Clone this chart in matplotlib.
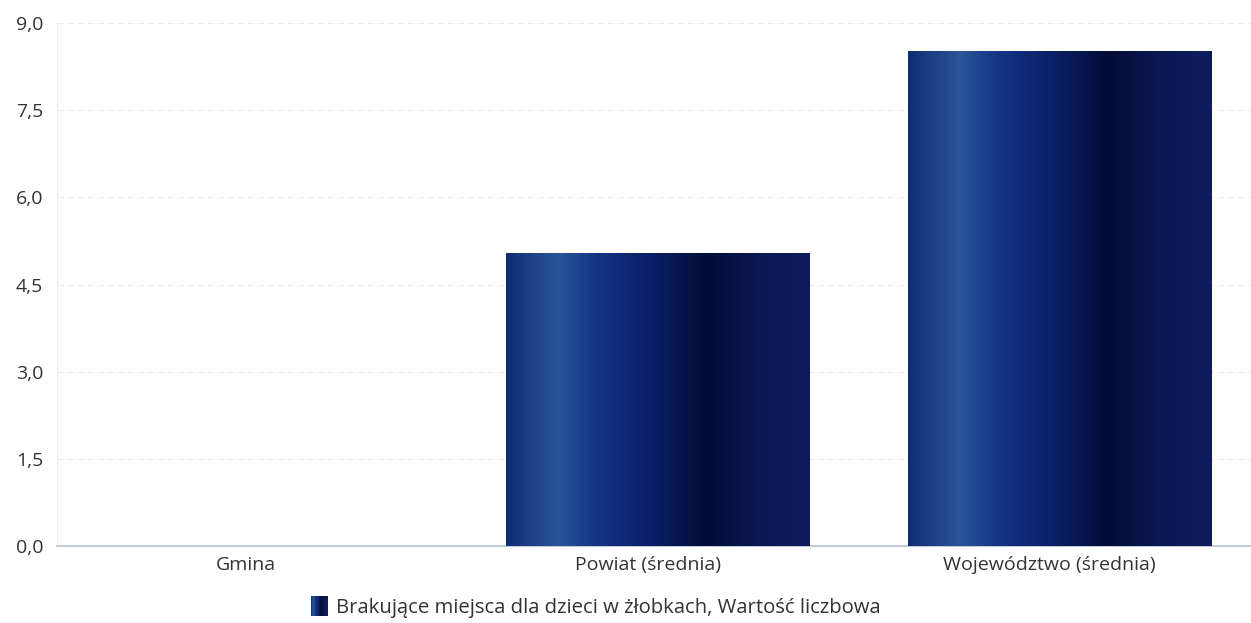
import numpy as np
import matplotlib.pyplot as plt
import matplotlib.transforms as mtransforms
from matplotlib.colors import LinearSegmentedColormap
from matplotlib.legend_handler import HandlerBase
from matplotlib.patches import Patch, Rectangle
from matplotlib.ticker import FuncFormatter, MultipleLocator

plt.rcParams['font.family'] = ['Open Sans', 'DejaVu Sans']

# dane
kategorie = ["Gmina", "Powiat (średnia)", "Województwo (średnia)"]
wartosci = [0.0, 5.05, 8.52]
seria = "Brakujące miejsca dla dzieci w żłobkach, Wartość liczbowa"

# gradient poziomy słupków
gradient = LinearSegmentedColormap.from_list(
    "slupek",
    [(0.0, "#112d72"), (0.17, "#2a5598"), (0.3, "#133484"), (0.47, "#0a2068"),
     (0.66, "#040c36"), (0.85, "#0b1a56"), (1.0, "#0c1c5e")])


class GradientHandler(HandlerBase):
    # kwadracik legendy z tym samym gradientem
    def create_artists(self, legend, orig_handle, xdescent, ydescent, width,
                       height, fontsize, trans):
        n = 12
        out = []
        for i in range(n):
            r = Rectangle((-xdescent + width * i / n, -ydescent), width / n + 0.3,
                          height, facecolor=gradient((i + 0.5) / n),
                          edgecolor="none", transform=trans)
            out.append(r)
        return out


fig = plt.figure(figsize=(12.51, 6.23), dpi=100)
ax = fig.add_axes([57 / 1251, 1 - 546 / 623, 1 - 57 / 1251, 523 / 623])

x = np.arange(len(kategorie))
bars = ax.bar(x, wartosci, width=0.755, color="#0b1d62", zorder=2)

# wypełnienie gradientem przyciętym do słupka
grad = np.linspace(0, 1, 256).reshape(1, -1)
for b in bars:
    if b.get_height() <= 0:
        continue
    im = ax.imshow(grad, cmap=gradient, aspect="auto", zorder=3,
                   extent=[b.get_x(), b.get_x() + b.get_width(), 0, b.get_height()])
    im.set_clip_path(b)

ax.set_xlim(-0.496, 2.478)
ax.set_ylim(0, 9)
ax.yaxis.set_major_locator(MultipleLocator(1.5))
ax.yaxis.set_major_formatter(FuncFormatter(lambda v, p: f"{v:.1f}".replace(".", ",")))
ax.set_xticks(x)
ax.set_xticklabels(kategorie)
ax.tick_params(axis="both", length=0, labelsize=14, colors="#333333")
ax.tick_params(axis="x", pad=7)
ax.tick_params(axis="y", pad=10)

# etykiety kategorii lekko przesunięte w lewo jak w oryginale
przesun = mtransforms.ScaledTranslation(-10 / 100, 0, fig.dpi_scale_trans)
for lab in ax.get_xticklabels():
    lab.set_transform(lab.get_transform() + przesun)

ax.grid(axis="y", color="#ececec", linewidth=0.8, linestyle=(0, (6, 3)), zorder=0)
ax.set_axisbelow(True)
for s in ["top", "right"]:
    ax.spines[s].set_visible(False)
ax.spines["left"].set_color("#eeeeee")
ax.spines["bottom"].set_color("#b8bfcc")
ax.spines["bottom"].set_linewidth(1.2)

uchwyt = Patch(facecolor="#0d2a6b", label=seria)
fig.legend(handles=[uchwyt], handler_map={uchwyt: GradientHandler()},
           loc="center", bbox_to_anchor=(596 / 1251, 1 - 607 / 623),
           frameon=False, fontsize=14.6, handlelength=0.8, handleheight=1.1,
           handletextpad=0.45, labelcolor="#333333")

fig.savefig("out.png", dpi=100)
